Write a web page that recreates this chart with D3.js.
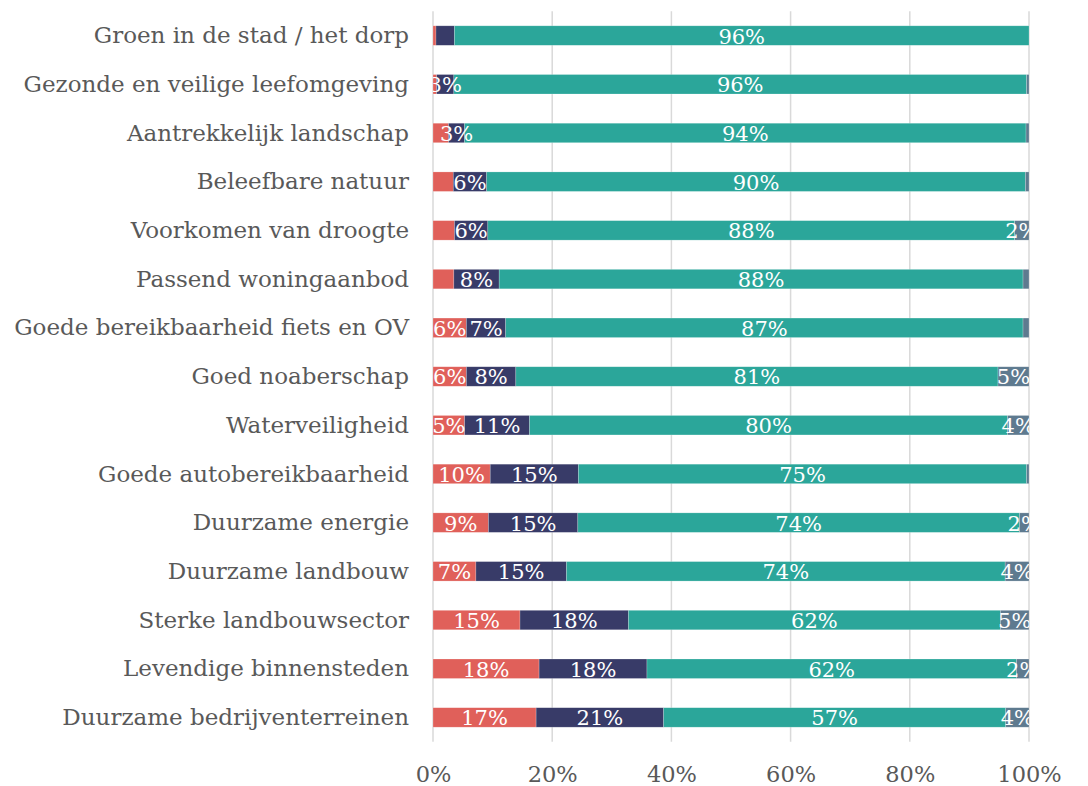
<!DOCTYPE html>
<html><head><meta charset="utf-8">
<script src="https://cdn.jsdelivr.net/npm/d3@7"></script>
<style>body{margin:0;background:#fff}</style>
</head><body><svg id="chart" width="1088" height="786"></svg>
<script>
const categories = [
  "Groen in de stad / het dorp",
  "Gezonde en veilige leefomgeving",
  "Aantrekkelijk landschap",
  "Beleefbare natuur",
  "Voorkomen van droogte",
  "Passend woningaanbod",
  "Goede bereikbaarheid fiets en OV",
  "Goed noaberschap",
  "Waterveiligheid",
  "Goede autobereikbaarheid",
  "Duurzame energie",
  "Duurzame landbouw",
  "Sterke landbouwsector",
  "Levendige binnensteden",
  "Duurzame bedrijventerreinen"
];
// shares in percent per segment (left to right)
const seriesRed  = [0.5, 0.6, 2.6, 3.4, 3.6, 3.5, 5.6, 5.6, 5.3, 9.6, 9.3, 7.2, 14.6, 17.8, 17.3];
const seriesNavy = [3.1, 2.9, 2.7, 5.6, 5.6, 7.6, 6.6, 8.3, 10.9, 14.8, 15.0, 15.2, 18.2, 18.1, 21.4];
const seriesTeal = [96.4, 96.1, 94.2, 90.4, 88.4, 87.9, 86.8, 80.9, 80.2, 75.2, 74.1, 73.6, 62.4, 62.0, 57.4];
const seriesGrey = [0.0, 0.4, 0.5, 0.6, 2.4, 1.0, 1.0, 5.2, 3.6, 0.4, 1.6, 4.0, 4.8, 2.1, 3.9];
// which data labels are shown
const showRed  = [0,0,0,0,0,0,1,1,1,1,1,1,1,1,1];
const showNavy = [0,1,1,1,1,1,1,1,1,1,1,1,1,1,1];
const showTeal = [1,1,1,1,1,1,1,1,1,1,1,1,1,1,1];
const showGrey = [0,0,0,0,1,0,0,1,1,0,1,1,1,1,1];
const xTicks = [0, 20, 40, 60, 80, 100];
const tickLabels = ["0%", "20%", "40%", "60%", "80%", "100%"];

const keys = ["red", "navy", "teal", "grey"];
const colors = {red: "#E0605A", navy: "#383B68", teal: "#2BA69A", grey: "#5E7A8F"};
const shows = {red: showRed, navy: showNavy, teal: showTeal, grey: showGrey};
const table = categories.map((c, i) => ({
  cat: c, idx: i, red: seriesRed[i], navy: seriesNavy[i], teal: seriesTeal[i], grey: seriesGrey[i]
}));

const svg = d3.select("#chart");
const font = "'DejaVu Serif', 'Liberation Serif', serif";
const pLeft = 433, pRight = 1029, pTop = 11.2, pBottom = 741.8;

const x = d3.scaleLinear().domain([0, 100]).range([pLeft, pRight]);
const y = d3.scaleBand().domain(categories).range([pTop, pBottom]).paddingInner(0.6).paddingOuter(0.3);

// gridlines
svg.append("g").selectAll("line").data(xTicks).join("line")
  .attr("x1", d => x(d)).attr("x2", d => x(d))
  .attr("y1", pTop).attr("y2", pBottom)
  .attr("stroke", "#D9D9D9").attr("stroke-width", 1.5);

// x axis labels
const xAxis = d3.axisBottom(x).tickValues(xTicks).tickFormat((d, i) => tickLabels[i]).tickSize(0).tickPadding(0);
const gx = svg.append("g").attr("transform", `translate(0,${pBottom + 24})`).call(xAxis);
gx.select(".domain").remove();
gx.selectAll("text").attr("font-family", font).attr("font-size", 22.5).attr("fill", "#595959");

// y axis labels
const yAxis = d3.axisLeft(y).tickSize(0).tickPadding(0);
const gy = svg.append("g").attr("transform", `translate(${pLeft - 24},0)`).call(yAxis);
gy.select(".domain").remove();
gy.selectAll("text").attr("font-family", font).attr("font-size", 23).attr("fill", "#595959").attr("dy", "0.33em");

const stack = d3.stack().keys(keys)(table);

const gBars = svg.append("g");
stack.forEach(layer => {
  gBars.append("g").selectAll("rect").data(layer).join("rect")
    .attr("x", d => x(d[0]))
    .attr("width", d => Math.max(0, x(d[1]) - x(d[0])))
    .attr("y", d => y(d.data.cat))
    .attr("height", y.bandwidth())
    .attr("fill", colors[layer.key])
    .attr("stroke", "rgba(255,255,255,0.35)")
    .attr("stroke-width", 0.6);
});

svg.append("defs").append("clipPath").attr("id", "plotclip")
  .append("rect").attr("x", pLeft).attr("y", 0).attr("width", pRight - pLeft).attr("height", 786);

const gLab = svg.append("g").attr("clip-path", "url(#plotclip)");
stack.forEach(layer => {
  gLab.append("g").selectAll("text").data(layer.filter(d => shows[layer.key][d.data.idx])).join("text")
    .attr("x", d => (x(d[0]) + x(d[1])) / 2)
    .attr("y", d => y(d.data.cat) + y.bandwidth() / 2)
    .attr("dy", "0.38em")
    .attr("text-anchor", "middle")
    .attr("font-family", font)
    .attr("font-size", 21)
    .attr("fill", "#FFFFFF")
    .text(d => Math.round(d[1] - d[0]) + "%");
});
</script>
</body></html>
